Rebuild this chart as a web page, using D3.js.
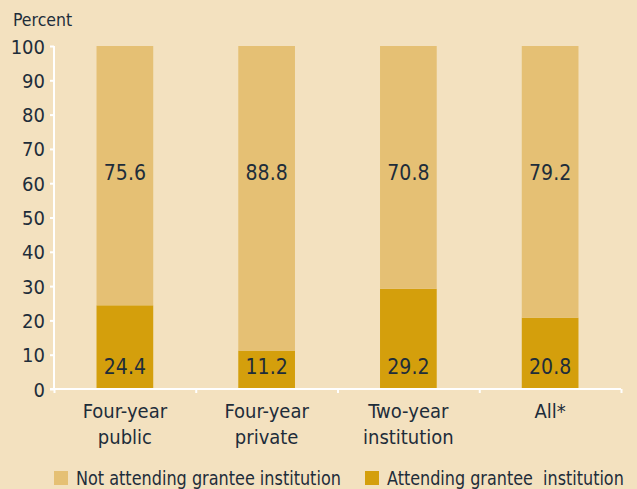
<!DOCTYPE html>
<html>
<head>
<meta charset="utf-8">
<script src="https://cdn.jsdelivr.net/npm/d3@7"></script>
<style>
  body { margin: 0; background: #f3e1bf; }
  text { font-family: "DejaVu Sans Condensed", "Liberation Sans Narrow", sans-serif; fill: #1e2d3a; }
</style>
</head>
<body>
<div id="chart"></div>
<script>
// Data
var categories = [["Four-year", "public"], ["Four-year", "private"], ["Two-year", "institution"], ["All*"]];
var attending = [24.4, 11.2, 29.2, 20.8];
var notAttending = [75.6, 88.8, 70.8, 79.2];
var yTicks = [0, 10, 20, 30, 40, 50, 60, 70, 80, 90, 100];
var legendLabels = ["Not attending grantee institution", "Attending grantee  institution"];

var colorLight = "#e5c074";
var colorDark = "#d49f0c";

var width = 637, height = 489;
var margin = {top: 46, right: 16, bottom: 100, left: 54};
var innerW = width - margin.left - margin.right;
var innerH = height - margin.top - margin.bottom;

var svg = d3.select("#chart").append("svg")
    .attr("width", width)
    .attr("height", height)
    .style("background", "#f3e1bf");

var g = svg.append("g")
    .attr("transform", "translate(" + margin.left + "," + margin.top + ")");

var x = d3.scaleBand()
    .domain(d3.range(categories.length))
    .range([0, innerW])
    .paddingInner(0.6)
    .paddingOuter(0.3);

var xb = d3.scaleLinear().domain([0, categories.length]).range([0, innerW]);

var y = d3.scaleLinear()
    .domain([0, 100])
    .range([innerH, 0]);

// Bars: bottom segment (attending) and top segment (not attending)
g.selectAll("rect.att")
    .data(attending)
  .enter().append("rect")
    .attr("class", "att")
    .attr("x", function(d, i) { return x(i); })
    .attr("width", x.bandwidth())
    .attr("y", function(d) { return y(d); })
    .attr("height", function(d) { return innerH - y(d); })
    .attr("fill", colorDark);

g.selectAll("rect.not")
    .data(notAttending)
  .enter().append("rect")
    .attr("class", "not")
    .attr("x", function(d, i) { return x(i); })
    .attr("width", x.bandwidth())
    .attr("y", function(d, i) { return y(attending[i] + d); })
    .attr("height", function(d, i) { return y(attending[i]) - y(attending[i] + d); })
    .attr("fill", colorLight);

// Value labels
g.selectAll("text.vAtt")
    .data(attending)
  .enter().append("text")
    .attr("class", "vAtt")
    .attr("x", function(d, i) { return x(i) + x.bandwidth() / 2; })
    .attr("y", y(4.4))
    .attr("text-anchor", "middle")
    .style("font-size", "21px")
    .text(function(d) { return d.toFixed(1); });

g.selectAll("text.vNot")
    .data(notAttending)
  .enter().append("text")
    .attr("class", "vNot")
    .attr("x", function(d, i) { return x(i) + x.bandwidth() / 2; })
    .attr("y", y(60.8))
    .attr("text-anchor", "middle")
    .style("font-size", "21px")
    .text(function(d) { return d.toFixed(1); });

// Y axis
var yAxis = g.append("g")
    .call(d3.axisLeft(y).tickValues(yTicks).tickSize(4).tickPadding(5));
yAxis.selectAll("line, path").attr("stroke", "#ffffff").attr("stroke-width", 2);
yAxis.select("path").attr("d", "M0," + innerH + "V0");
yAxis.selectAll("text").style("font-size", "20px").attr("fill", "#1e2d3a").attr("dy", "0.35em");

// X axis with ticks at category boundaries
var xAxis = g.append("g")
    .attr("transform", "translate(0," + innerH + ")")
    .call(d3.axisBottom(xb).tickValues(d3.range(categories.length + 1)).tickSize(4).tickFormat(""));
xAxis.selectAll("line, path").attr("stroke", "#ffffff").attr("stroke-width", 2);
xAxis.select("path").attr("d", "M-4,0H" + innerW);

// Category labels
var cat = g.selectAll("text.cat")
    .data(categories)
  .enter().append("text")
    .attr("class", "cat")
    .attr("x", function(d, i) { return x(i) + x.bandwidth() / 2; })
    .attr("y", innerH + 29)
    .attr("text-anchor", "middle")
    .style("font-size", "20px");
cat.selectAll("tspan")
    .data(function(d) { return d; })
  .enter().append("tspan")
    .attr("x", function() { return d3.select(this.parentNode).attr("x"); })
    .attr("dy", function(d, i) { return i === 0 ? 0 : 26; })
    .text(function(d) { return d; });

// Y axis title
svg.append("text")
    .attr("x", 13)
    .attr("y", 26)
    .style("font-size", "17.5px")
    .text("Percent");

// Legend (the original font is narrower, so squeeze each text horizontally to its width)
var legendX = [54, 365];
var legendW = [265, 237];
var legendColors = [colorLight, colorDark];
var legend = svg.selectAll("g.legend")
    .data(legendLabels)
  .enter().append("g")
    .attr("class", "legend")
    .attr("transform", function(d, i) { return "translate(" + legendX[i] + ",471)"; });
legend.append("rect")
    .attr("width", 14)
    .attr("height", 14)
    .attr("fill", function(d, i) { return legendColors[i]; });
legend.append("text")
    .attr("y", 14)
    .style("font-size", "20px")
    .style("white-space", "pre")
    .text(function(d) { return d; })
    .attr("transform", function(d, i) {
        var w = this.getComputedTextLength();
        return "translate(22,0) scale(" + (legendW[i] / w) + ",1)";
    });
</script>
</body>
</html>
